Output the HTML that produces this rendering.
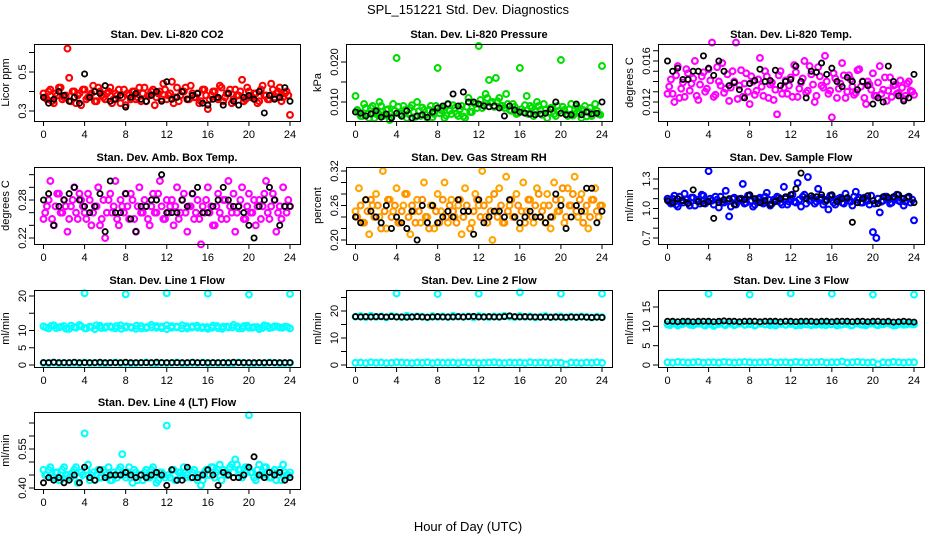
<!DOCTYPE html>
<html><head><meta charset="utf-8">
<style>
html,body{margin:0;padding:0;background:#fff;}
svg{display:block;font-family:"Liberation Sans",Arial,sans-serif;}
</style></head>
<body>
<svg id="chart" width="936" height="540" viewBox="0 0 936 540" xmlns="http://www.w3.org/2000/svg">
<text x="468" y="14" font-size="13" text-anchor="middle">SPL_151221  Std. Dev. Diagnostics</text>
<text x="468" y="531" font-size="13" text-anchor="middle">Hour of Day (UTC)</text>
</svg>
<script>
const hourTicks=[0,4,8,12,16,20,24];
// Panel 1 CO2
const co2Red=[0.39,0.36,0.41,0.34,0.38,0.42,0.37,0.62,0.35,0.40,0.38,0.33,0.41,0.37,0.39,0.35,0.42,0.38,0.36,0.40,0.34,0.39,0.41,0.37,0.33,0.38,0.40,0.36,0.42,0.39,0.35,0.38,0.41,0.37,0.40,0.44,0.36,0.39,0.34,0.42,0.38,0.40,0.36,0.43,0.37,0.39,0.35,0.41,0.31,0.38,0.40,0.36,0.42,0.37,0.39,0.34,0.41,0.38,0.46,0.36,0.40,0.37,0.39,0.35,0.43,0.38,0.36,0.41,0.39,0.42,0.37,0.40,0.28];
const co2RedB=[0.37,0.40,0.35,0.39,0.42,0.36,0.38,0.47,0.40,0.34,0.39,0.41,0.36,0.38,0.43,0.35,0.40,0.37,0.39,0.42,0.36,0.38,0.34,0.41,0.39,0.36,0.40,0.37,0.35,0.42,0.38,0.40,0.33,0.39,0.36,0.41,0.38,0.45,0.37,0.35,0.40,0.42,0.36,0.39,0.37,0.34,0.41,0.38,0.36,0.40,0.37,0.43,0.35,0.39,0.41,0.36,0.38,0.40,0.35,0.42,0.37,0.39,0.34,0.41,0.38,0.36,0.44,0.37,0.40,0.35,0.39,0.38];
const co2Black=[0.37,0.34,0.36,0.40,0.38,0.35,0.37,0.34,0.49,0.37,0.40,0.39,0.43,0.35,0.36,0.38,0.32,0.37,0.39,0.36,0.35,0.38,0.40,0.35,0.45,0.36,0.37,0.40,0.36,0.38,0.39,0.34,0.33,0.36,0.37,0.33,0.39,0.35,0.33,0.37,0.38,0.36,0.40,0.29,0.38,0.36,0.37,0.42,0.35];
// Panel 2 pressure
const presGreen=[0.0115,0.0075,0.0065,0.0085,0.0060,0.0090,0.0070,0.0100,0.0065,0.0080,0.0055,0.0095,0.0210,0.0070,0.0090,0.0060,0.0085,0.0075,0.0100,0.0065,0.0080,0.0060,0.0090,0.0070,0.0185,0.0080,0.0060,0.0095,0.0070,0.0085,0.0065,0.0090,0.0060,0.0110,0.0075,0.0095,0.0240,0.0085,0.0120,0.0155,0.0100,0.0160,0.0110,0.0090,0.0120,0.0080,0.0095,0.0070,0.0185,0.0075,0.0115,0.0090,0.0065,0.0100,0.0080,0.0095,0.0060,0.0085,0.0070,0.0090,0.0205,0.0080,0.0065,0.0095,0.0070,0.0085,0.0060,0.0090,0.0075,0.0065,0.0095,0.0070,0.0190];
const presGreenB=[0.0080,0.0065,0.0095,0.0070,0.0085,0.0060,0.0075,0.0090,0.0068,0.0082,0.0062,0.0078,0.0088,0.0065,0.0080,0.0070,0.0092,0.0063,0.0077,0.0086,0.0068,0.0080,0.0062,0.0090,0.0072,0.0084,0.0066,0.0078,0.0092,0.0070,0.0082,0.0064,0.0088,0.0075,0.0098,0.0085,0.0105,0.0092,0.0110,0.0098,0.0088,0.0102,0.0090,0.0085,0.0095,0.0078,0.0088,0.0072,0.0082,0.0092,0.0070,0.0085,0.0076,0.0090,0.0068,0.0080,0.0074,0.0086,0.0065,0.0078,0.0088,0.0070,0.0082,0.0066,0.0090,0.0074,0.0080,0.0064,0.0085,0.0072,0.0078,0.0068];
const presBlack=[0.0075,0.0072,0.0065,0.0070,0.0078,0.0062,0.0070,0.0060,0.0072,0.0065,0.0078,0.0060,0.0065,0.0068,0.0062,0.0075,0.0085,0.0090,0.0095,0.0120,0.0090,0.0125,0.0100,0.0100,0.0095,0.0090,0.0088,0.0090,0.0085,0.0065,0.0090,0.0080,0.0075,0.0072,0.0070,0.0068,0.0070,0.0072,0.0082,0.0100,0.0072,0.0068,0.0068,0.0095,0.0068,0.0075,0.0070,0.0072,0.0100];
// Panel 3 Li-820 temp
const tempMag=[0.0128,0.0142,0.0120,0.0155,0.0133,0.0125,0.0148,0.0138,0.0160,0.0122,0.0145,0.0130,0.0152,0.0178,0.0127,0.0140,0.0158,0.0133,0.0121,0.0150,0.0178,0.0136,0.0125,0.0148,0.0118,0.0140,0.0131,0.0163,0.0126,0.0145,0.0137,0.0122,0.0108,0.0150,0.0134,0.0128,0.0144,0.0156,0.0125,0.0139,0.0160,0.0131,0.0147,0.0120,0.0154,0.0136,0.0165,0.0128,0.0105,0.0143,0.0133,0.0158,0.0124,0.0146,0.0135,0.0129,0.0152,0.0140,0.0118,0.0137,0.0148,0.0126,0.0155,0.0132,0.0121,0.0144,0.0136,0.0128,0.0141,0.0123,0.0138,0.0131,0.0127];
const tempMagB=[0.0135,0.0128,0.0146,0.0124,0.0139,0.0152,0.0131,0.0143,0.0126,0.0137,0.0149,0.0133,0.0141,0.0125,0.0154,0.0136,0.0129,0.0147,0.0134,0.0140,0.0123,0.0151,0.0138,0.0130,0.0145,0.0127,0.0142,0.0135,0.0150,0.0124,0.0139,0.0132,0.0146,0.0128,0.0141,0.0136,0.0125,0.0149,0.0133,0.0143,0.0129,0.0155,0.0137,0.0126,0.0145,0.0134,0.0140,0.0131,0.0148,0.0124,0.0138,0.0146,0.0130,0.0142,0.0127,0.0151,0.0135,0.0124,0.0140,0.0132,0.0126,0.0139,0.0128,0.0144,0.0131,0.0125,0.0137,0.0129,0.0134,0.0126,0.0140,0.0130];
const tempBlack=[0.0160,0.0150,0.0153,0.0142,0.0142,0.0150,0.0150,0.0165,0.0153,0.0146,0.0160,0.0150,0.0136,0.0139,0.0132,0.0124,0.0138,0.0141,0.0152,0.0140,0.0141,0.0151,0.0136,0.0140,0.0142,0.0155,0.0140,0.0124,0.0150,0.0149,0.0158,0.0147,0.0153,0.0140,0.0135,0.0144,0.0140,0.0132,0.0140,0.0136,0.0118,0.0124,0.0120,0.0155,0.0140,0.0126,0.0121,0.0124,0.0147];
// Panel 4 amb box temp
const ambMag=[0.25,0.27,0.31,0.24,0.29,0.26,0.28,0.23,0.27,0.30,0.25,0.28,0.26,0.29,0.24,0.27,0.30,0.25,0.22,0.28,0.26,0.31,0.24,0.27,0.29,0.25,0.28,0.23,0.30,0.26,0.27,0.24,0.29,0.26,0.31,0.25,0.28,0.27,0.24,0.30,0.26,0.29,0.23,0.27,0.25,0.28,0.21,0.26,0.30,0.27,0.24,0.29,0.25,0.28,0.31,0.26,0.23,0.27,0.30,0.25,0.29,0.26,0.24,0.28,0.27,0.31,0.25,0.29,0.23,0.27,0.30,0.26,0.27];
const ambMagB=[0.26,0.28,0.25,0.27,0.29,0.26,0.27,0.25,0.28,0.26,0.29,0.27,0.25,0.28,0.26,0.27,0.24,0.28,0.26,0.29,0.27,0.25,0.28,0.26,0.27,0.29,0.25,0.27,0.26,0.28,0.25,0.27,0.26,0.29,0.27,0.25,0.26,0.28,0.27,0.25,0.28,0.26,0.27,0.29,0.26,0.25,0.27,0.28,0.26,0.24,0.27,0.26,0.28,0.25,0.27,0.29,0.26,0.28,0.25,0.27,0.26,0.28,0.27,0.25,0.29,0.26,0.27,0.28,0.26,0.25,0.27,0.28];
const ambBlack=[0.28,0.29,0.24,0.27,0.28,0.29,0.30,0.28,0.27,0.26,0.27,0.29,0.23,0.31,0.26,0.26,0.29,0.25,0.23,0.27,0.27,0.28,0.28,0.32,0.26,0.26,0.26,0.28,0.27,0.29,0.30,0.26,0.26,0.27,0.28,0.30,0.28,0.27,0.27,0.26,0.24,0.22,0.27,0.28,0.30,0.28,0.24,0.27,0.27];
// Panel 5 RH
const rhOrange=[0.25,0.29,0.23,0.27,0.21,0.26,0.28,0.24,0.32,0.22,0.27,0.25,0.29,0.23,0.26,0.28,0.21,0.25,0.27,0.23,0.30,0.24,0.26,0.22,0.28,0.25,0.30,0.23,0.27,0.24,0.26,0.21,0.29,0.25,0.23,0.28,0.26,0.32,0.24,0.27,0.20,0.25,0.29,0.23,0.31,0.26,0.24,0.28,0.22,0.30,0.25,0.27,0.23,0.29,0.24,0.26,0.28,0.22,0.30,0.25,0.27,0.23,0.29,0.26,0.31,0.24,0.28,0.25,0.22,0.27,0.29,0.24,0.26];
const rhOrangeB=[0.24,0.26,0.23,0.25,0.27,0.24,0.26,0.22,0.25,0.27,0.24,0.26,0.23,0.25,0.28,0.24,0.26,0.23,0.25,0.27,0.24,0.22,0.26,0.25,0.23,0.27,0.24,0.26,0.25,0.23,0.27,0.24,0.26,0.22,0.25,0.27,0.24,0.26,0.23,0.25,0.28,0.24,0.26,0.23,0.25,0.27,0.24,0.26,0.25,0.23,0.27,0.24,0.26,0.28,0.25,0.23,0.26,0.24,0.27,0.25,0.29,0.24,0.26,0.28,0.25,0.27,0.23,0.26,0.24,0.27,0.25,0.26];
const rhBlack=[0.24,0.23,0.27,0.25,0.24,0.23,0.26,0.22,0.24,0.23,0.22,0.25,0.20,0.26,0.23,0.26,0.23,0.24,0.25,0.24,0.27,0.25,0.25,0.21,0.27,0.23,0.24,0.25,0.25,0.24,0.27,0.24,0.23,0.24,0.25,0.24,0.24,0.23,0.24,0.28,0.26,0.22,0.24,0.26,0.25,0.29,0.29,0.23,0.25];
// Panel 6 sample flow
const sfBlue=[1.10,1.05,1.13,1.02,1.08,1.15,1.06,1.11,1.03,1.09,1.14,1.05,1.38,1.08,1.12,1.01,1.07,1.18,0.92,1.10,1.04,1.09,1.25,1.06,1.13,1.02,1.08,1.11,1.05,1.16,1.03,1.09,1.12,1.06,1.22,1.04,1.10,1.07,1.26,1.02,1.14,1.32,1.09,1.05,1.20,1.11,1.07,0.99,1.13,1.04,1.10,1.06,1.15,1.08,1.03,1.17,1.11,1.06,1.09,1.04,0.76,0.70,0.96,1.08,1.12,1.05,1.10,1.14,1.07,1.03,1.11,1.06,0.88];
const sfBlueB=[1.07,1.10,1.04,1.12,1.06,1.09,1.03,1.11,1.08,1.05,1.13,1.07,1.10,1.04,1.09,1.12,1.06,1.08,1.02,1.11,1.07,1.10,1.05,1.13,1.08,1.04,1.10,1.06,1.12,1.09,1.05,1.08,1.11,1.04,1.10,1.07,1.14,1.06,1.09,1.12,1.05,1.08,1.11,1.07,1.10,1.04,1.09,1.13,1.06,1.08,1.11,1.05,1.10,1.07,1.12,1.09,1.06,1.11,1.08,1.13,1.05,1.10,1.07,1.12,1.09,1.06,1.11,1.08,1.10,1.07,1.12,1.09];
const sfBlack=[1.08,1.06,1.10,1.08,1.05,1.19,1.07,1.05,1.07,0.90,1.06,1.09,1.10,1.04,1.10,1.09,1.14,1.10,1.06,1.08,1.04,1.07,1.10,1.12,1.14,1.20,1.36,1.10,1.13,1.12,1.14,1.08,1.14,1.07,1.10,1.11,0.86,1.06,1.10,1.13,1.08,1.05,1.12,1.11,1.12,1.14,1.10,1.12,1.06];
// Panels 7-9 line flows
const outlierHours=[4,8,12,16,20,24];
const l1High=[11.2,10.6,11.5,10.9,11.3,10.5,11.0,11.6,10.7,11.1,10.4,11.4,10.8,11.2,10.6,11.5,10.9,11.0,10.5,11.3,10.7,11.6,10.8,11.1,10.4,11.3,10.9,11.5,10.6,11.2,10.8,11.0,10.5,11.4,10.7,11.1,10.9,11.6,10.6,11.3,10.8,11.0,10.4,11.5,10.7,11.2,10.9,11.1,10.6];
const l1HighB=[10.9,11.3,10.7,11.1,10.5,11.4,10.8,11.2,10.6,11.0,11.5,10.7,11.1,10.9,11.3,10.5,11.2,10.8,11.4,10.6,11.0,10.9,11.3,10.7,11.5,10.8,11.1,10.6,11.2,10.9,11.4,10.7,11.0,10.8,11.3,10.5,11.1,10.9,11.2,10.6,11.4,10.8,11.0,10.7,11.3,10.9,11.1,10.8,11.0];
const l1Low=[0.6,0.5,0.7,0.4,0.6,0.5,0.6,0.4,0.7,0.5,0.6,0.5,0.4,0.6,0.7,0.5,0.6,0.4,0.5,0.6,0.7,0.5,0.4,0.6,0.5,0.6,0.7,0.4,0.5,0.6,0.5,0.7,0.4,0.6,0.5,0.6,0.4,0.5,0.7,0.6,0.5,0.4,0.6,0.5,0.7,0.6,0.4,0.5,0.6];
const l1Out=[20.8,20.5,20.8,20.7,20.4,20.6];
const l1Black=[0.7,0.7,0.8,0.7,0.7,0.7,0.8,0.7,0.7,0.7,0.7,0.8,0.7,0.7,0.7,0.7,0.8,0.7,0.7,0.7,0.7,0.7,0.8,0.7,0.7,0.7,0.7,0.7,0.7,0.8,0.7,0.7,0.7,0.7,0.7,0.7,0.7,0.8,0.7,0.7,0.7,0.7,0.7,0.7,0.7,0.7,0.7,0.7,0.7];
const l2High=[17.9,18.1,17.7,18.2,17.8,18.0,17.6,18.1,17.9,17.7,18.2,17.8,18.0,17.9,17.6,18.1,17.8,18.0,17.7,18.2,17.9,17.8,18.0,17.6,18.1,17.9,17.7,18.0,17.8,18.2,17.9,17.7,18.1,17.8,18.0,17.6,17.9,18.1,17.7,17.8,18.0,17.6,17.9,17.7,18.0,17.8,17.6,17.9,17.7];
const l2Low=[0.8,0.9,0.7,1.0,0.8,0.9,0.7,0.8,1.0,0.9,0.8,0.7,0.9,0.8,1.0,0.7,0.9,0.8,0.8,0.9,0.7,1.0,0.8,0.9,0.7,0.8,0.9,1.0,0.8,0.7,0.9,0.8,0.9,0.7,1.0,0.8,0.9,0.8,0.7,0.9,0.8,0.2,0.9,0.8,0.7,0.9,0.8,1.0,0.8];
const l2Out=[26.5,26.3,26.4,26.9,26.4,26.4];
const l2Black=[17.9,17.8,17.9,17.8,17.9,17.9,17.8,17.9,17.8,17.8,17.7,17.8,17.9,17.8,17.7,17.8,17.9,17.8,17.8,17.8,17.9,17.8,17.9,18.0,17.8,17.8,17.9,17.8,17.8,17.9,18.2,17.9,17.8,17.9,17.8,17.8,17.7,17.8,17.7,17.8,17.7,17.7,17.8,17.7,17.8,17.7,17.6,17.7,17.6];
const l3High=[10.5,10.8,10.2,10.6,10.9,10.3,10.7,10.4,10.8,10.1,10.6,10.5,10.9,10.3,10.7,10.4,10.6,10.2,10.8,10.5,10.3,10.7,10.9,10.4,10.6,10.2,10.8,10.5,10.3,10.7,10.4,10.9,10.6,10.2,10.5,10.8,10.3,10.7,10.4,10.6,10.9,10.3,10.5,10.8,10.2,10.6,10.4,10.7,10.5];
const l3HighB=[10.3,10.7,10.5,10.9,10.4,10.6,10.8,10.2,10.6,10.4,10.8,10.3,10.7,10.5,10.9,10.4,10.6,10.3,10.7,10.5,10.8,10.2,10.6,10.4,10.9,10.5,10.3,10.7,10.6,10.4,10.8,10.3,10.5,10.7,10.4,10.6,10.2,10.8,10.5,10.3,10.7,10.4,10.6,10.9,10.5,10.3,10.7,10.5,10.6];
const l3Low=[0.7,0.6,0.8,0.7,0.6,0.7,0.8,0.6,0.7,0.7,0.6,0.8,0.7,0.6,0.7,0.8,0.7,0.6,0.7,0.7,0.8,0.6,0.7,0.7,0.6,0.8,0.7,0.6,0.7,0.7,0.8,0.6,0.7,0.7,0.9,0.6,0.7,0.8,0.7,0.6,0.7,0.2,0.7,0.6,0.8,0.7,0.6,0.7,0.7];
const l3Out=[18.4,18.2,18.5,18.4,18.2,18.2];
const l3Black=[11.3,11.3,11.2,11.3,11.3,11.2,11.3,11.3,11.3,11.2,11.3,11.4,11.3,11.3,11.2,11.3,11.3,11.3,11.2,11.3,11.3,11.3,11.2,11.3,11.3,11.2,11.3,11.3,11.3,11.2,11.3,11.3,11.2,11.3,11.3,11.3,11.2,11.3,11.3,11.2,11.3,11.3,11.2,11.3,11.1,11.2,11.3,11.2,11.1];
// Panel 10 line 4
const l4Cyan=[0.47,0.45,0.48,0.44,0.46,0.43,0.48,0.45,0.44,0.47,0.42,0.46,0.61,0.49,0.45,0.43,0.47,0.44,0.46,0.48,0.43,0.45,0.47,0.53,0.44,0.48,0.42,0.46,0.45,0.43,0.47,0.44,0.48,0.42,0.46,0.45,0.64,0.44,0.47,0.43,0.46,0.48,0.45,0.44,0.47,0.43,0.41,0.46,0.45,0.48,0.44,0.47,0.43,0.46,0.45,0.49,0.51,0.47,0.44,0.48,0.68,0.46,0.43,0.49,0.45,0.48,0.44,0.46,0.43,0.47,0.49,0.45,0.46];
const l4CyanB=[0.45,0.47,0.44,0.46,0.43,0.47,0.45,0.44,0.46,0.48,0.44,0.45,0.47,0.43,0.46,0.45,0.44,0.47,0.45,0.43,0.46,0.44,0.48,0.45,0.46,0.44,0.47,0.43,0.45,0.46,0.44,0.47,0.45,0.43,0.46,0.44,0.45,0.47,0.43,0.46,0.45,0.44,0.47,0.46,0.44,0.45,0.43,0.47,0.45,0.48,0.46,0.49,0.47,0.45,0.48,0.46,0.49,0.47,0.45,0.48,0.46,0.44,0.47,0.45,0.48,0.46,0.44,0.47,0.45,0.43,0.46,0.45];
const l4Black=[0.42,0.44,0.43,0.44,0.42,0.43,0.45,0.42,0.48,0.44,0.43,0.47,0.44,0.45,0.45,0.45,0.46,0.45,0.44,0.45,0.44,0.45,0.46,0.45,0.41,0.47,0.43,0.43,0.48,0.44,0.44,0.45,0.47,0.45,0.41,0.46,0.45,0.44,0.44,0.45,0.48,0.52,0.45,0.44,0.46,0.45,0.46,0.43,0.44];

const NS='http://www.w3.org/2000/svg';
const svg=document.getElementById('chart');
const rowTops=[44,167,290,412], colLefts=[34,346,658], BW=266, BH=77;
const panels=[
 {name:'co2',title:'Stan. Dev. Li-820 CO2',ylab:'Licor ppm',r:0,c:0,v0:0.3,p0:67,v1:0.5,p1:28,ticks:[0.3,0.4,0.5,0.6],labels:{'0.3':'0.3','0.5':'0.5'},series:[[co2Red,'#ff0000'],[co2RedB,'#ff0000',null,1],[co2Black,'#000']]},
 {name:'pressure',title:'Stan. Dev. Li-820 Pressure',ylab:'kPa',r:0,c:1,v0:0.010,p0:58,v1:0.020,p1:18,ticks:[0.010,0.015,0.020],labels:{'0.01':'0.010','0.02':'0.020'},series:[[presGreen,'#00dd00'],[presGreenB,'#00dd00',null,1],[presBlack,'#000']]},
 {name:'li820-temp',title:'Stan. Dev. Li-820 Temp.',ylab:'degrees C',r:0,c:2,v0:0.012,p0:58,v1:0.016,p1:17,ticks:[0.011,0.012,0.013,0.014,0.015,0.016,0.017],labels:{'0.012':'0.012','0.016':'0.016'},series:[[tempMag,'#ff00ff'],[tempMagB,'#ff00ff',null,1],[tempBlack,'#000']]},
 {name:'amb-box-temp',title:'Stan. Dev. Amb. Box Temp.',ylab:'degrees C',r:1,c:0,v0:0.22,p0:71,v1:0.28,p1:33,ticks:[0.22,0.24,0.26,0.28,0.30,0.32],labels:{'0.22':'0.22','0.28':'0.28'},series:[[ambMag,'#ff00ff'],[ambMagB,'#ff00ff',null,1],[ambBlack,'#000']]},
 {name:'gas-rh',title:'Stan. Dev. Gas Stream RH',ylab:'percent',r:1,c:1,v0:0.20,p0:73,v1:0.32,p1:4,ticks:[0.20,0.22,0.24,0.26,0.28,0.30,0.32],labels:{'0.2':'0.20','0.26':'0.26','0.32':'0.32'},series:[[rhOrange,'#ffa500'],[rhOrangeB,'#ff9000',null,1],[rhBlack,'#000']]},
 {name:'sample-flow',title:'Stan. Dev. Sample Flow',ylab:'ml/min',r:1,c:2,v0:0.7,p0:71,v1:1.3,p1:12,ticks:[0.7,0.8,0.9,1.0,1.1,1.2,1.3],labels:{'0.7':'0.7','1':'1.0','1.3':'1.3'},series:[[sfBlue,'#0000ff'],[sfBlueB,'#0000ff',null,1],[sfBlack,'#000']]},
 {name:'line1-flow',title:'Stan. Dev. Line 1 Flow',ylab:'ml/min',r:2,c:0,v0:0,p0:75,v1:20,p1:6,ticks:[0,5,10,15,20],labels:{'0':'0','5':'5','10':'10','20':'20'},series:[[l1High,'#00ffff'],[l1HighB,'#00ffff',null,1],[l1Low,'#00ffff'],[l1Out,'#00ffff',outlierHours],[l1Black,'#000']]},
 {name:'line2-flow',title:'Stan. Dev. Line 2 Flow',ylab:'ml/min',r:2,c:1,v0:0,p0:75,v1:20,p1:21,ticks:[0,5,10,15,20,25],labels:{'0':'0','10':'10','20':'20'},series:[[l2High,'#00ffff'],[l2Low,'#00ffff'],[l2Out,'#00ffff',outlierHours],[l2Black,'#000']]},
 {name:'line3-flow',title:'Stan. Dev. Line 3 Flow',ylab:'ml/min',r:2,c:2,v0:0,p0:75,v1:15,p1:17,ticks:[0,5,10,15],labels:{'0':'0','5':'5','10':'10','15':'15'},series:[[l3High,'#00ffff'],[l3HighB,'#00ffff',null,1],[l3Low,'#00ffff'],[l3Out,'#00ffff',outlierHours],[l3Black,'#000']]},
 {name:'line4-flow',title:'Stan. Dev. Line 4 (LT) Flow',ylab:'ml/min',r:3,c:0,v0:0.40,p0:76,v1:0.55,p1:37,ticks:[0.40,0.45,0.50,0.55,0.60,0.65],labels:{'0.4':'0.40','0.55':'0.55'},series:[[l4Cyan,'#00ffff'],[l4CyanB,'#00ffff',null,1],[l4Black,'#000']]}
];
function mk(tag,attrs,parent){const e=document.createElementNS(NS,tag);for(const k in attrs)e.setAttribute(k,attrs[k]);(parent||svg).appendChild(e);return e;}
panels.forEach(p=>{
  const L=colLefts[p.c], T=rowTops[p.r];
  const g=mk('g',{});
  
  
  const xs=h=>L+9.5+h*(246.5/24);
  const ys=v=>T+p.p0+(v-p.v0)*(p.p1-p.p0)/(p.v1-p.v0);
  const t=mk('text',{x:L+BW/2,y:T-6,'font-size':11,'font-weight':'bold','text-anchor':'middle'},g);
  t.textContent=p.title;
  
  
  const yl=mk('text',{x:0,y:0,'font-size':11,'text-anchor':'middle',transform:`translate(${L-25},${T+BH/2}) rotate(-90)`},g);
  yl.textContent=p.ylab;
  
  
  hourTicks.forEach(h=>{
    const x=xs(h);
    mk('line',{x1:x,x2:x,y1:T+BH,y2:T+BH+5,stroke:'#000','stroke-width':1},g);
    const lt=mk('text',{x:x,y:T+BH+17,'font-size':11,'text-anchor':'middle'},g);
    lt.textContent=h;
    
    
  });
  p.ticks.forEach(v=>{
    const y=ys(v);
    if(y<T-1||y>T+BH+1)return;
    mk('line',{x1:L-5,x2:L,y1:y,y2:y,stroke:'#000','stroke-width':1},g);
    const key=String(+v.toFixed(4));
    if(p.labels[key]!==undefined){
      const lt=mk('text',{x:0,y:0,'font-size':11,'text-anchor':'middle',transform:`translate(${L-8},${y}) rotate(-90)`},g);
      lt.textContent=p.labels[key];
      
      
    }
  });
  const pts=mk('g',{},g);
  p.series.forEach(s=>{
    const vals=s[0],col=s[1],hrs=s[2],shift=s[3];
    const isBlack=col==='#000';
    vals.forEach((v,i)=>{
      const h=hrs?hrs[i]:(shift?(i+0.5)*24/vals.length:i*24/(vals.length-1));
      const c=mk('circle',{cx:xs(h),cy:ys(v),r:isBlack?2.6:2.9,fill:'none',stroke:col,'stroke-width':isBlack?1.8:2.1},pts);
      
      
    });
  });
  const box=mk('rect',{x:L+0.5,y:T+0.5,width:BW,height:BH,fill:'none',stroke:'#000','stroke-width':1},g);
  
  
});
</script>
</body></html>
